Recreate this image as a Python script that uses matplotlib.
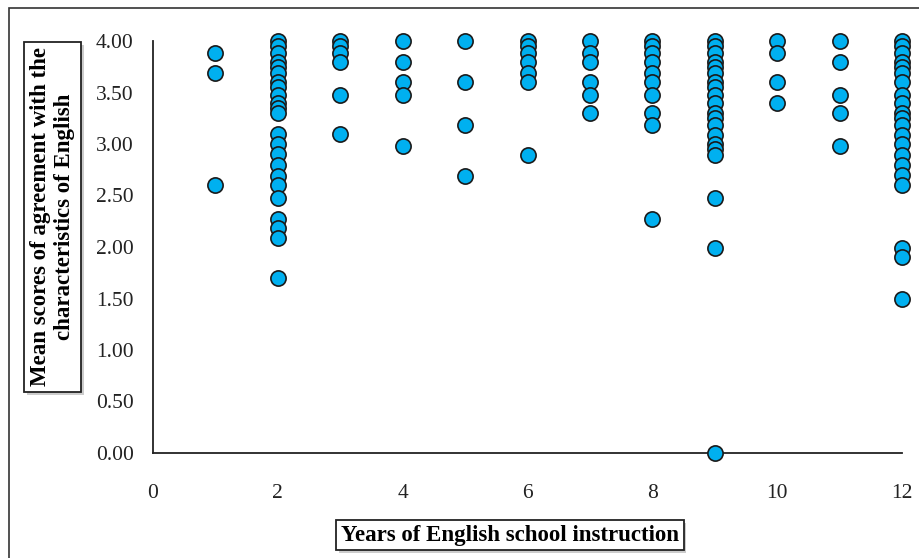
import matplotlib.pyplot as plt
from matplotlib.patches import Rectangle
from matplotlib import patheffects as pe

# Mean agreement scores, one list per year of instruction
years = [1, 2, 3, 4, 5, 6, 7, 8, 9, 10, 11, 12]
scores_y1 = [3.88, 3.69, 2.60]
scores_y2 = [4.00, 3.95, 3.88, 3.80, 3.75, 3.69, 3.60, 3.55, 3.48, 3.40, 3.35, 3.30,
             3.10, 3.00, 2.90, 2.80, 2.69, 2.60, 2.48, 2.27, 2.18, 2.09, 1.70]
scores_y3 = [4.00, 3.95, 3.88, 3.80, 3.48, 3.10]
scores_y4 = [4.00, 3.80, 3.60, 3.48, 2.98]
scores_y5 = [4.00, 3.60, 3.18, 2.69]
scores_y6 = [4.00, 3.95, 3.88, 3.80, 3.69, 3.60, 2.89]
scores_y7 = [4.00, 3.88, 3.80, 3.60, 3.48, 3.30]
scores_y8 = [4.00, 3.95, 3.88, 3.80, 3.69, 3.60, 3.48, 3.30, 3.18, 2.27]
scores_y9 = [4.00, 3.95, 3.88, 3.80, 3.75, 3.69, 3.60, 3.55, 3.48, 3.40, 3.30, 3.25,
             3.18, 3.09, 3.00, 2.95, 2.89, 2.48, 1.99, 0.00]
scores_y10 = [4.00, 3.88, 3.60, 3.40]
scores_y11 = [4.00, 3.80, 3.48, 3.30, 2.98]
scores_y12 = [4.00, 3.95, 3.88, 3.80, 3.75, 3.69, 3.60, 3.48, 3.40, 3.30, 3.25, 3.18,
              3.09, 3.00, 2.89, 2.80, 2.70, 2.60, 1.99, 1.90, 1.50]

all_scores = [scores_y1, scores_y2, scores_y3, scores_y4, scores_y5, scores_y6,
              scores_y7, scores_y8, scores_y9, scores_y10, scores_y11, scores_y12]

x_ticks = [0, 2, 4, 6, 8, 10, 12]
y_ticks = [0, 0.5, 1, 1.5, 2, 2.5, 3, 3.5, 4]

plt.rcParams['font.family'] = ['Liberation Serif', 'DejaVu Serif']

fig = plt.figure(figsize=(9.19, 5.58), dpi=100)
ax = fig.add_axes([153 / 919, 1 - 453 / 558, 749 / 919, 412 / 558])

xs, ys = [], []
for yr, sc in zip(years, all_scores):
    xs += [yr] * len(sc)
    ys += sc
ax.scatter(xs, ys, s=120, c='#00B0F0', edgecolors='#1a1a1a', linewidths=1.2,
           zorder=3, clip_on=False)

ax.set_xlim(0, 12)
ax.set_ylim(0, 4)
ax.set_xticks(x_ticks)
ax.set_xticklabels([str(t) for t in x_ticks])
ax.set_yticks(y_ticks)
ax.set_yticklabels([f"{t:.2f}" for t in y_ticks])
ax.tick_params(length=0, labelsize=15.5, labelcolor='#222222')
ax.tick_params(axis='y', pad=14)
ax.tick_params(axis='x', pad=22)
for side in ['top', 'right']:
    ax.spines[side].set_visible(False)
for side in ['left', 'bottom']:
    ax.spines[side].set_color('#222222')
    ax.spines[side].set_linewidth(1.3)

# boxed axis titles with a soft shadow
shadow = [pe.withSimplePatchShadow(offset=(2, -2), shadow_rgbFace='gray', alpha=0.4)]
yl = fig.text(52.5 / 919, 1 - 217 / 558,
              "Mean scores of agreement with the\ncharacteristics of English",
              rotation=90, ha='center', va='center', fontsize=16.5, fontweight='bold',
              linespacing=1.2,
              bbox=dict(boxstyle='square,pad=0.25', fc='white', ec='#222222', lw=1.3))
yl.get_bbox_patch().set_path_effects(shadow)
xl = fig.text(510 / 919, 1 - 535 / 558, "Years of English school instruction",
              ha='center', va='center', fontsize=16.5, fontweight='bold',
              bbox=dict(boxstyle='square,pad=0.2', fc='white', ec='#222222', lw=1.3))
xl.get_bbox_patch().set_path_effects(shadow)

# outer frame of the figure
fig.add_artist(Rectangle((9 / 919, -0.1), 1.2, 0.1 + 1 - 8 / 558, transform=fig.transFigure,
                         fill=False, ec='#333333', lw=1.2))

fig.savefig('out.png', dpi=100)
